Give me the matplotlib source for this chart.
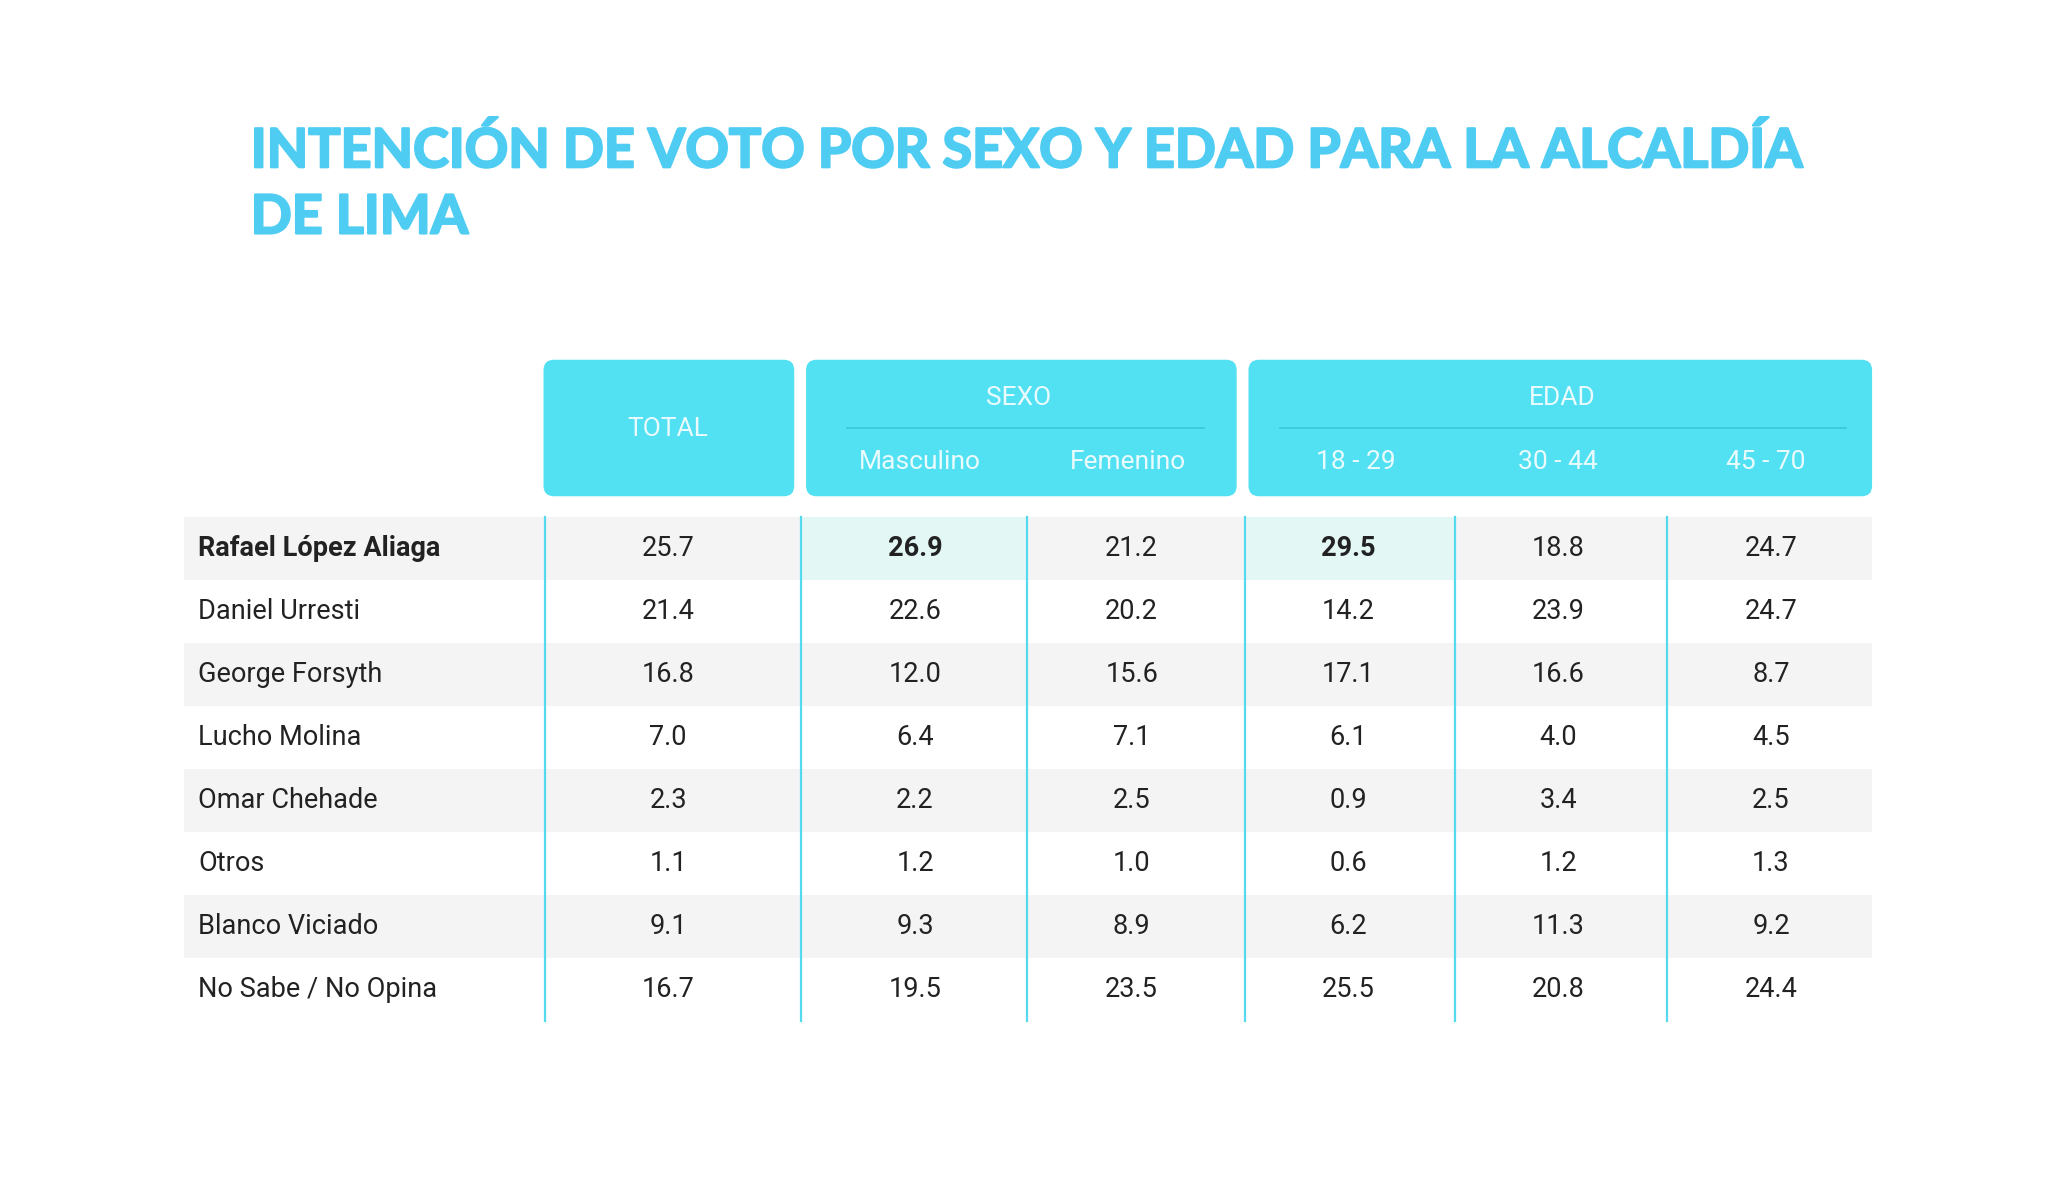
import matplotlib
matplotlib.use("Agg")
import matplotlib.pyplot as plt
import matplotlib.patheffects as pe
from matplotlib.patches import FancyBboxPatch, Rectangle

# data
title_lines = ["INTENCIÓN DE VOTO POR SEXO Y EDAD PARA LA ALCALDÍA", "DE LIMA"]
candidates = ["Rafael López Aliaga", "Daniel Urresti", "George Forsyth", "Lucho Molina",
              "Omar Chehade", "Otros", "Blanco Viciado", "No Sabe / No Opina"]
col_labels = ["TOTAL", "Masculino", "Femenino", "18 - 29", "30 - 44", "45 - 70"]
group_labels = ["SEXO", "EDAD"]
total = [25.7, 21.4, 16.8, 7.0, 2.3, 1.1, 9.1, 16.7]
masculino = [26.9, 22.6, 12.0, 6.4, 2.2, 1.2, 9.3, 19.5]
femenino = [21.2, 20.2, 15.6, 7.1, 2.5, 1.0, 8.9, 23.5]
edad_18_29 = [29.5, 14.2, 17.1, 6.1, 0.9, 0.6, 6.2, 25.5]
edad_30_44 = [18.8, 23.9, 16.6, 4.0, 3.4, 1.2, 11.3, 20.8]
edad_45_70 = [24.7, 24.7, 8.7, 4.5, 2.5, 1.3, 9.2, 24.4]
highlight = [(0, 1), (0, 3)]  # (row, col) cells in bold

columns = [total, masculino, femenino, edad_18_29, edad_30_44, edad_45_70]

CYAN = "#52E0F3"
TITLE = "#4FCCF2"
LINE = "#55D9EE"
SHADE = "#F4F4F4"
MINT = "#E3F7F5"
TXT = "#222222"
FONT = "Roboto"

fig = plt.figure(figsize=(20.48, 12), dpi=100)
ax = fig.add_axes([0, 0, 1, 1])
ax.set_xlim(0, 1560)
ax.set_ylim(914, 0)
ax.axis("off")

# title (stroke makes the bold a bit heavier)
for i, line in enumerate(title_lines):
    ax.text(191, 115 + i * 51, line, fontsize=38.8, fontweight="bold", color=TITLE,
            family="Lato", va="center", ha="left",
            path_effects=[pe.withStroke(linewidth=1.6, foreground=TITLE)])

# header boxes
boxes = [(414, 605), (614, 942), (951, 1426)]
for x0, x1 in boxes:
    ax.add_patch(FancyBboxPatch((x0, 274), x1 - x0, 104, boxstyle="round,pad=0,rounding_size=8",
                                fc=CYAN, ec="none"))
hdr_kw = dict(fontsize=19, color="#EAFBFE", family=FONT, ha="center", va="center")
ax.text(509, 327, col_labels[0], **hdr_kw)
ax.text(776, 303, group_labels[0], **hdr_kw)
ax.text(1190, 303, group_labels[1], **hdr_kw)
ax.plot([645, 917], [326, 326], color="#38C6DC", lw=1.2)
ax.plot([975, 1406], [326, 326], color="#38C6DC", lw=1.2)

col_x = [509, 701, 859, 1033, 1187, 1345]
for x, lab in zip(col_x[1:], col_labels[1:]):
    ax.text(x, 352, lab, **hdr_kw)

# table body
row_top = 394
row_h = 48
val_x = [509, 697, 862, 1027, 1187, 1349]
for r, name in enumerate(candidates):
    y0 = row_top + r * row_h
    if r % 2 == 0:
        ax.add_patch(Rectangle((140, y0), 1286, row_h, fc=SHADE, ec="none", zorder=0))
    yc = y0 + row_h / 2
    ax.text(151, yc, name, fontsize=19.5, color=TXT, family=FONT, va="center", ha="left",
            fontweight="bold" if r == 0 else "normal")
    for c, vals in enumerate(columns):
        bold = (r, c) in highlight
        ax.text(val_x[c], yc, f"{vals[r]:.1f}", fontsize=19.5, color=TXT, family=FONT,
                va="center", ha="center", fontweight="bold" if bold else "normal")

cell_edges = [415, 610, 782, 948, 1108, 1270, 1426]
for r, c in highlight:
    y0 = row_top + r * row_h
    ax.add_patch(Rectangle((cell_edges[c], y0), cell_edges[c + 1] - cell_edges[c], row_h,
                           fc=MINT, ec="none", zorder=0.5))

for x in cell_edges[:-1]:
    ax.plot([x, x], [row_top, row_top + row_h * len(candidates)], color=LINE, lw=1.6, zorder=2)

fig.savefig("out.png", dpi=100, facecolor="white")
